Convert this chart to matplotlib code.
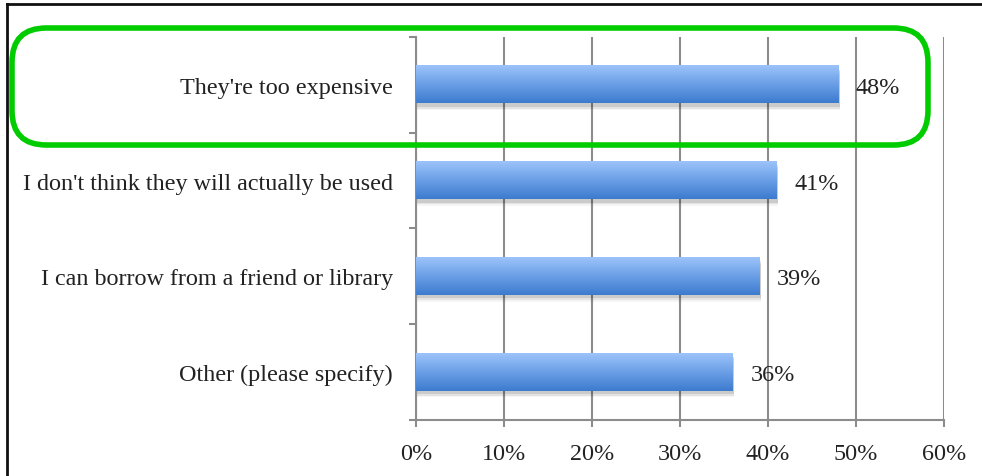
import numpy as np
import matplotlib
matplotlib.use('Agg')
import matplotlib.pyplot as plt
from matplotlib.patches import FancyBboxPatch, Rectangle
from matplotlib.lines import Line2D
from matplotlib.colors import LinearSegmentedColormap

categories = ["They're too expensive",
              "I don't think they will actually be used",
              "I can borrow from a friend or library",
              "Other (please specify)"]
values = [48, 41, 39, 36]
xticks = [0, 10, 20, 30, 40, 50, 60]
xtick_labels = ['0%', '10%', '20%', '30%', '40%', '50%', '60%']

plt.rcParams['font.family'] = ['Liberation Serif', 'DejaVu Serif']
textColor = '#222222'
gridColor = '#8c8c8c'
fontSize = 17.4

fig = plt.figure(figsize=(9.82, 4.77), dpi=100)
W, H = 982, 477
ax = fig.add_axes([416 / W, 1 - 420.7 / H, (944 - 416) / W, (420.7 - 38) / H])

# blue vertical gradient for the bars
barCmap = LinearSegmentedColormap.from_list('bar', ['#9cc3fa', '#6b9fe6', '#3d7bcf'])
grad = np.linspace(0, 1, 64).reshape(-1, 1)
barHeight = 0.39

for i, v in enumerate(values):
    top = i - barHeight / 2
    bottom = i + barHeight / 2
    # soft shadow under each bar
    for k, a in enumerate([0.10, 0.07, 0.04]):
        off = 0.015 + k * 0.018
        ax.add_patch(Rectangle((0.15, top + off + 0.02), v, barHeight, facecolor='black',
                               edgecolor='none', alpha=a, zorder=2))
    ax.imshow(grad, cmap=barCmap, aspect='auto', extent=(0, v, bottom, top), zorder=3,
              interpolation='bicubic')
    ax.text(v + 2.0, i, '%d%%' % v, va='center_baseline', ha='left', fontsize=fontSize,
            color=textColor, zorder=5)

ax.set_xlim(0, 60)
ax.set_ylim(len(categories) - 0.5, -0.5)

ax.set_xticks(xticks)
ax.set_xticklabels(xtick_labels, fontsize=fontSize, color=textColor)
ax.set_yticks(range(len(categories)))
ax.set_yticklabels(categories, fontsize=fontSize, color=textColor)
ax.set_yticks(np.arange(-0.5, len(categories), 1), minor=True)
ax.tick_params(axis='y', which='major', length=0, pad=16.5)
ax.tick_params(axis='y', which='minor', length=5, width=1.5, color=gridColor, direction='out')
ax.tick_params(axis='x', which='major', length=5, width=1.5, color=gridColor, direction='out', pad=12)

ax.grid(axis='x', color=gridColor, linewidth=1.5, zorder=1)
ax.set_axisbelow(True)
for s in ['top', 'right']:
    ax.spines[s].set_visible(False)
for s in ['left', 'bottom']:
    ax.spines[s].set_color(gridColor)
    ax.spines[s].set_linewidth(1.5)

# frame lines at top and left of the figure
fig.add_artist(Line2D([7 / W, 1], [1 - 5 / H, 1 - 5 / H], color='#111111', linewidth=2))
fig.add_artist(Line2D([7 / W, 7 / W], [0, 1 - 5 / H], color='#111111', linewidth=2))

# green rounded highlight around the first row
fig.add_artist(FancyBboxPatch((12 / W, 1 - 146 / H), (928 - 12) / W, (146 - 29) / H,
                              boxstyle='round,pad=0,rounding_size=0.035',
                              transform=fig.transFigure, facecolor='none',
                              edgecolor='#00cc00', linewidth=4, mutation_aspect=W / H))

fig.savefig('out.png', dpi=100)
